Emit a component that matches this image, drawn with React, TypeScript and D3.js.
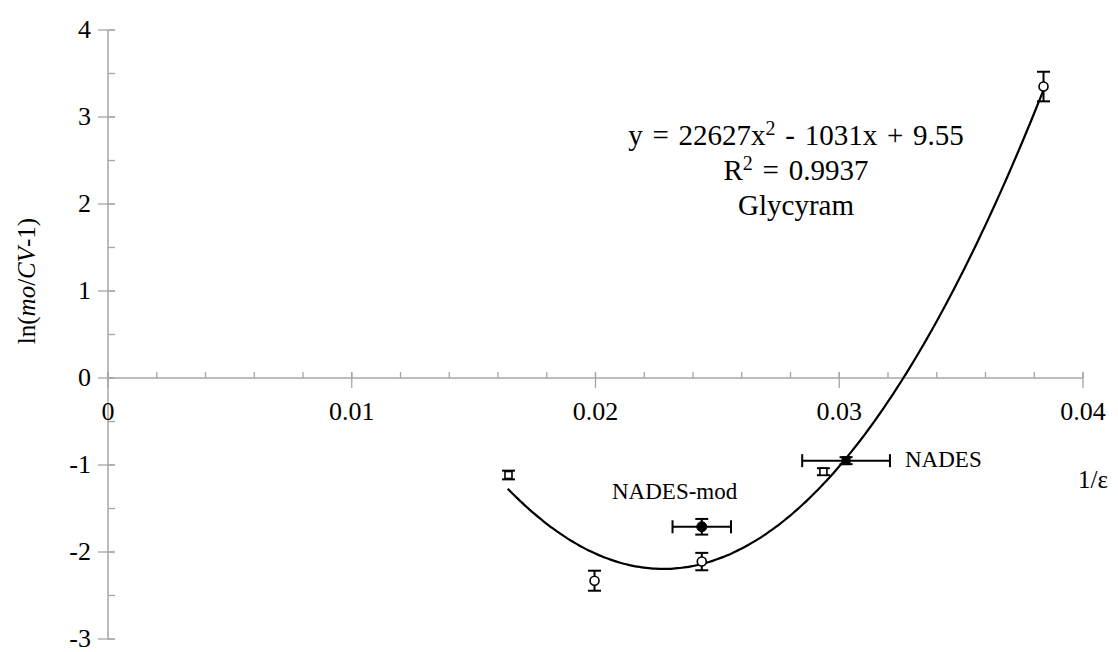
import React from "react";
import * as d3 from "d3";

const pointX = [0.01643, 0.01996, 0.02436, 0.02436, 0.02935, 0.03028, 0.03838];
const pointY = [-1.115, -2.33, -1.71, -2.11, -1.077, -0.95, 3.35];
const yErr = [0.05, 0.115, 0.09, 0.1, 0.04, 0.04, 0.17];
const xErr = [0, 0, 0.0012, 0, 0, 0.0018, 0];
const markers = ["openSquare", "openCircle", "filledCircle", "openCircle", "openSquare", "filledSquare", "openCircle"];

const trendA = 22627;
const trendB = -1031;
const trendC = 9.55;
const trendRange = [0.0164, 0.0384];

const xTicks = [0, 0.01, 0.02, 0.03, 0.04];
const xTickLabels = ["0", "0.01", "0.02", "0.03", "0.04"];
const yTicks = [-3, -2, -1, 0, 1, 2, 3, 4];

const W = 1118;
const H = 652;
const FONT = "'Liberation Serif', 'Times New Roman', serif";
const AXIS = "#a6a6a6";

export default function App() {
  const x = d3.scaleLinear().domain([0, 0.04]).range([108, 1083]);
  const y = d3.scaleLinear().domain([-3, 4]).range([639, 30]);

  const xMinor = d3.range(0, 0.04 + 1e-9, 0.002);
  const yMinor = d3.range(-3, 4 + 1e-9, 0.5);

  const n = 120;
  const curvePts: [number, number][] = d3.range(n + 1).map((i) => {
    const xv = trendRange[0] + ((trendRange[1] - trendRange[0]) * i) / n;
    return [xv, trendA * xv * xv + trendB * xv + trendC];
  });
  const line = d3
    .line<[number, number]>()
    .x((d) => x(d[0]))
    .y((d) => y(d[1]))
    .curve(d3.curveBasis);

  const cap = 6.5;

  return (
    <svg width={W} height={H} style={{ position: "absolute", left: 0, top: 0 }} fontFamily={FONT}>
      <rect width={W} height={H} fill="#fff" />
      {/* axes */}
      <line x1={x(0)} x2={x(0.04)} y1={y(0)} y2={y(0)} stroke={AXIS} strokeWidth={1.5} />
      <line x1={x(0)} x2={x(0)} y1={y(4)} y2={y(-3)} stroke={AXIS} strokeWidth={1.5} />
      {xMinor.map((t, i) => (
        <line key={"xm" + i} x1={x(t)} x2={x(t)} y1={y(0) - 6} y2={y(0)} stroke={AXIS} strokeWidth={1.3} />
      ))}
      {xTicks.map((t, i) => (
        <line key={"xM" + i} x1={x(t)} x2={x(t)} y1={y(0) - 6} y2={y(0) + 10} stroke={AXIS} strokeWidth={1.3} />
      ))}
      {yMinor.map((t, i) => (
        <line key={"ym" + i} x1={x(0)} x2={x(0) + 7} y1={y(t)} y2={y(t)} stroke={AXIS} strokeWidth={1.3} />
      ))}
      {yTicks.map((t, i) => (
        <line key={"yM" + i} x1={x(0) - 10} x2={x(0) + 7} y1={y(t)} y2={y(t)} stroke={AXIS} strokeWidth={1.3} />
      ))}
      {/* tick labels */}
      {xTicks.map((t, i) => (
        <text key={"xl" + i} x={x(t)} y={420} fontSize={26} textAnchor="middle" fill="#000">
          {xTickLabels[i]}
        </text>
      ))}
      {yTicks.map((t, i) => (
        <text key={"yl" + i} x={91} y={y(t) + 8} fontSize={26} textAnchor="end" fill="#000">
          {t}
        </text>
      ))}
      {/* axis titles */}
      <text transform={`translate(35,${281}) rotate(-90)`} fontSize={25} textAnchor="middle" fill="#000">
        ln(<tspan fontStyle="italic">mo</tspan>/<tspan fontStyle="italic">CV</tspan>-1)
      </text>
      <text x={1078} y={488} fontSize={25} fill="#000">
        1/ε
      </text>
      {/* trend line */}
      <path d={line(curvePts) || ""} fill="none" stroke="#000" strokeWidth={2.2} />
      {/* error bars */}
      {pointX.map((px, i) => {
        const cx = x(px);
        const cy = y(pointY[i]);
        const y1 = y(pointY[i] + yErr[i]);
        const y2 = y(pointY[i] - yErr[i]);
        const els = [
          <line key="v" x1={cx} x2={cx} y1={y1} y2={y2} stroke="#000" strokeWidth={2} />,
          <line key="vt" x1={cx - cap} x2={cx + cap} y1={y1} y2={y1} stroke="#000" strokeWidth={2} />,
          <line key="vb" x1={cx - cap} x2={cx + cap} y1={y2} y2={y2} stroke="#000" strokeWidth={2} />,
        ];
        if (xErr[i] > 0) {
          const x1 = x(px - xErr[i]);
          const x2 = x(px + xErr[i]);
          els.push(
            <line key="h" x1={x1} x2={x2} y1={cy} y2={cy} stroke="#000" strokeWidth={2} />,
            <line key="hl" x1={x1} x2={x1} y1={cy - cap} y2={cy + cap} stroke="#000" strokeWidth={2} />,
            <line key="hr" x1={x2} x2={x2} y1={cy - cap} y2={cy + cap} stroke="#000" strokeWidth={2} />
          );
        }
        return <g key={"e" + i}>{els}</g>;
      })}
      {/* markers */}
      {pointX.map((px, i) => {
        const cx = x(px);
        const cy = y(pointY[i]);
        const m = markers[i];
        if (m === "openCircle")
          return <circle key={"m" + i} cx={cx} cy={cy} r={4.5} fill="#fff" stroke="#000" strokeWidth={1.6} />;
        if (m === "filledCircle")
          return <circle key={"m" + i} cx={cx} cy={cy} r={5} fill="#000" stroke="#000" strokeWidth={1} />;
        if (m === "openSquare")
          return <rect key={"m" + i} x={cx - 3.5} y={cy - 3.5} width={7} height={7} fill="#fff" stroke="#000" strokeWidth={1.6} />;
        return <rect key={"m" + i} x={cx - 4.5} y={cy - 4.5} width={9} height={9} fill="#000" />;
      })}
      {/* annotations */}
      <text x={796} y={145} fontSize={29} textAnchor="middle" fill="#000" wordSpacing={2.5}>
        y = 22627x<tspan dy={-10} fontSize={20}>2</tspan>
        <tspan dy={10}> - 1031x + 9.55</tspan>
      </text>
      <text x={796} y={180} fontSize={29} textAnchor="middle" fill="#000" wordSpacing={2.5}>
        R<tspan dy={-10} fontSize={20}>2</tspan>
        <tspan dy={10}> = 0.9937</tspan>
      </text>
      <text x={796} y={215} fontSize={29} textAnchor="middle" fill="#000">
        Glycyram
      </text>
      <text x={905} y={467} fontSize={23} fill="#000">
        NADES
      </text>
      <text x={612} y={499} fontSize={23} fill="#000">
        NADES-mod
      </text>
    </svg>
  );
}
